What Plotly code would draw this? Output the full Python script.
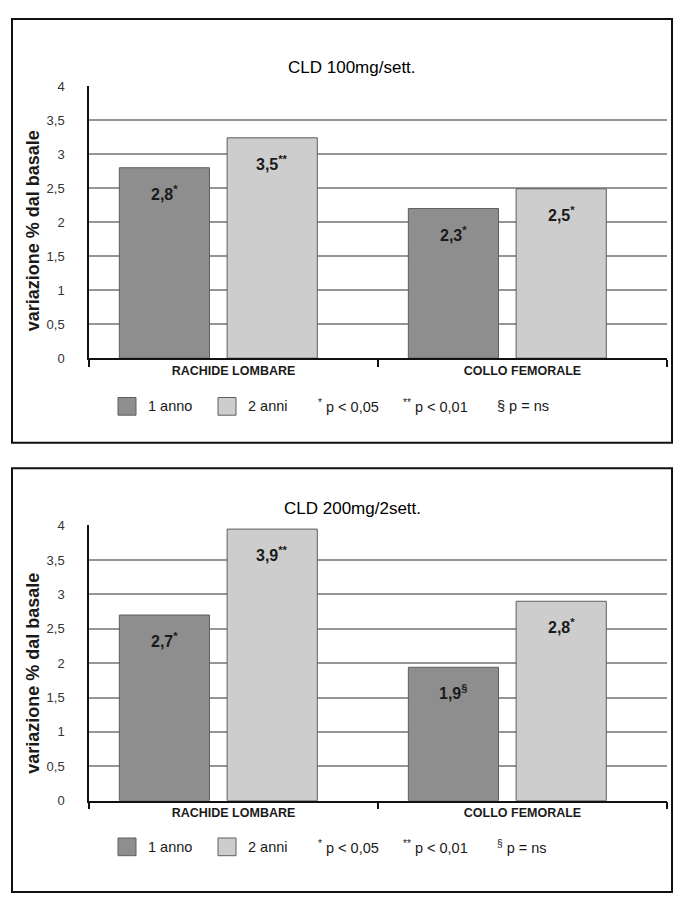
import plotly.graph_objects as go

# page body has an 8px default margin: figure drawn at (8,8)
OFFS = 8
W, H = 685 - 2 * OFFS, 913 - 2 * OFFS

# ---------------- data ----------------
categories = ["RACHIDE LOMBARE", "COLLO FEMORALE"]
series_names = ["1 anno", "2 anni"]

p1_title = "CLD 100mg/sett."
p1_1anno = [2.8, 2.2]
p1_2anni = [3.24, 2.49]
p1_lab_1anno = ["2,8<sup>*</sup>", "2,3<sup>*</sup>"]
p1_lab_2anni = ["3,5<sup>**</sup>", "2,5<sup>*</sup>"]

p2_title = "CLD 200mg/2sett."
p2_1anno = [2.7, 1.94]
p2_2anni = [3.95, 2.9]
p2_lab_1anno = ["2,7<sup>*</sup>", "1,9<sup>§</sup>"]
p2_lab_2anni = ["3,9<sup>**</sup>", "2,8<sup>*</sup>"]

y_ticks = [0, 0.5, 1, 1.5, 2, 2.5, 3, 3.5, 4]
y_title = "variazione % dal basale"
legend_notes_1 = ["<sup>*</sup> p < 0,05", "<sup>**</sup> p < 0,01", "§ p = ns"]
legend_notes_2 = ["<sup>*</sup> p < 0,05", "<sup>**</sup> p < 0,01", "<sup>§</sup> p = ns"]

# ---------------- style ----------------
FONT = "Liberation Sans, Arial, sans-serif"
C_DARK = "#8e8e8e"
C_LIGHT = "#cdcdcd"
C_EDGE = "#5e5e5e"
GRID = "#959595"
TXT = "#1a1a1a"
BAR_W = 0.312
OFF = [-0.395, -0.022]


def px(x):
    return (x - OFFS) / W


def py(y):
    return 1 - (y - OFFS) / H


panels = [
    dict(title=p1_title, a=p1_1anno, b=p1_2anni, la=p1_lab_1anno, lb=p1_lab_2anni,
         notes=legend_notes_1, top=80, bottom=357, box=(12, 12, 672, 443),
         title_y=61, leg_y=406, ytitle_c=228),
    dict(title=p2_title, a=p2_1anno, b=p2_2anni, la=p2_lab_1anno, lb=p2_lab_2anni,
         notes=legend_notes_2, top=527, bottom=807, box=(12, 469, 672, 900),
         title_y=510, leg_y=854, ytitle_c=678),
]

fig = go.Figure()
shapes = []
annotations = []

for i, p in enumerate(panels):
    sfx = "" if i == 0 else str(i + 1)
    xa, ya = "x" + sfx, "y" + sfx
    for vals, name, col, off in [(p["a"], series_names[0], C_DARK, OFF[0]),
                                 (p["b"], series_names[1], C_LIGHT, OFF[1])]:
        fig.add_trace(go.Bar(
            x=categories, y=vals, name=name, xaxis=xa, yaxis=ya,
            width=BAR_W, offset=off, showlegend=False,
            marker=dict(color=col, line=dict(color=C_EDGE, width=1)),
            hoverinfo="skip",
        ))
    # bar labels
    for labels, vals, off in [(p["la"], p["a"], OFF[0]), (p["lb"], p["b"], OFF[1])]:
        for k, (lab, v) in enumerate(zip(labels, vals)):
            annotations.append(dict(
                x=k + off + BAR_W / 2, y=v, xref=xa, yref=ya, text="<b>%s</b>" % lab,
                showarrow=False, yshift=-25, yanchor="middle",
                font=dict(family=FONT, size=16, color=TXT)))
    layout_x = dict(
        type="category", domain=[px(89), px(667)], range=[-0.5, 1.5],
        anchor=ya, showline=True, linecolor="#111", linewidth=1.5,
        ticks="outside", tickson="boundaries", ticklen=7, tickcolor="#111", tickwidth=1.5,
        showgrid=False, tickfont=dict(family=FONT, size=12.5, color=TXT, weight="bold"),
        fixedrange=True,
    )
    layout_y = dict(
        domain=[py(p["bottom"]), py(p["top"])], range=[0, 4.005], anchor=xa,
        tickvals=y_ticks, showline=True, linecolor="#111", linewidth=1.5,
        showgrid=True, gridcolor=GRID, gridwidth=1.5, zeroline=False,
        ticks="", ticklabelstandoff=20,
        tickfont=dict(family=FONT, size=13, color="#333"), fixedrange=True,
    )
    fig.update_layout(**{"xaxis" + sfx: layout_x, "yaxis" + sfx: layout_y})

    # panel border
    x0, y0, x1, y1 = p["box"]
    shapes.append(dict(type="rect", xref="paper", yref="paper",
                       x0=px(x0), x1=px(x1), y0=py(y0), y1=py(y1),
                       line=dict(color="#111", width=2), layer="above"))
    # title
    annotations.append(dict(x=px(352), y=py(p["title_y"]), xref="paper", yref="paper",
                            text=p["title"], showarrow=False, xanchor="center", yanchor="middle",
                            font=dict(family=FONT, size=17, color="#000")))
    # y title
    annotations.append(dict(x=px(33), y=py(p["ytitle_c"]), xref="paper", yref="paper",
                            text="<b>%s</b>" % y_title, textangle=-90, showarrow=False,
                            xanchor="center", yanchor="middle",
                            font=dict(family=FONT, size=18, color=TXT)))
    # legend
    ly = p["leg_y"]
    for (sx, col, lab) in [(118, C_DARK, series_names[0]), (218, C_LIGHT, series_names[1])]:
        shapes.append(dict(type="rect", xref="paper", yref="paper",
                           x0=px(sx), x1=px(sx + 18), y0=py(ly + 9), y1=py(ly - 9),
                           fillcolor=col, line=dict(color=C_EDGE, width=1)))
        annotations.append(dict(x=px(sx + 28), y=py(ly), xref="paper", yref="paper",
                                text=lab, showarrow=False, xanchor="left", yanchor="middle",
                                font=dict(family=FONT, size=14.5, color=TXT)))
    for nx, note in zip([316, 401, 495], p["notes"]):
        annotations.append(dict(x=px(nx), y=py(ly), xref="paper", yref="paper",
                                text=note, showarrow=False, xanchor="left", yanchor="middle",
                                font=dict(family=FONT, size=14.5, color=TXT)))

fig.update_layout(
    width=W, height=H, margin=dict(l=0, r=0, t=0, b=0),
    paper_bgcolor="white", plot_bgcolor="white",
    separators=",.", barmode="overlay", showlegend=False,
    shapes=shapes, annotations=annotations,
    font=dict(family=FONT),
)

fig.write_html("out.html", config={"displayModeBar": False})
